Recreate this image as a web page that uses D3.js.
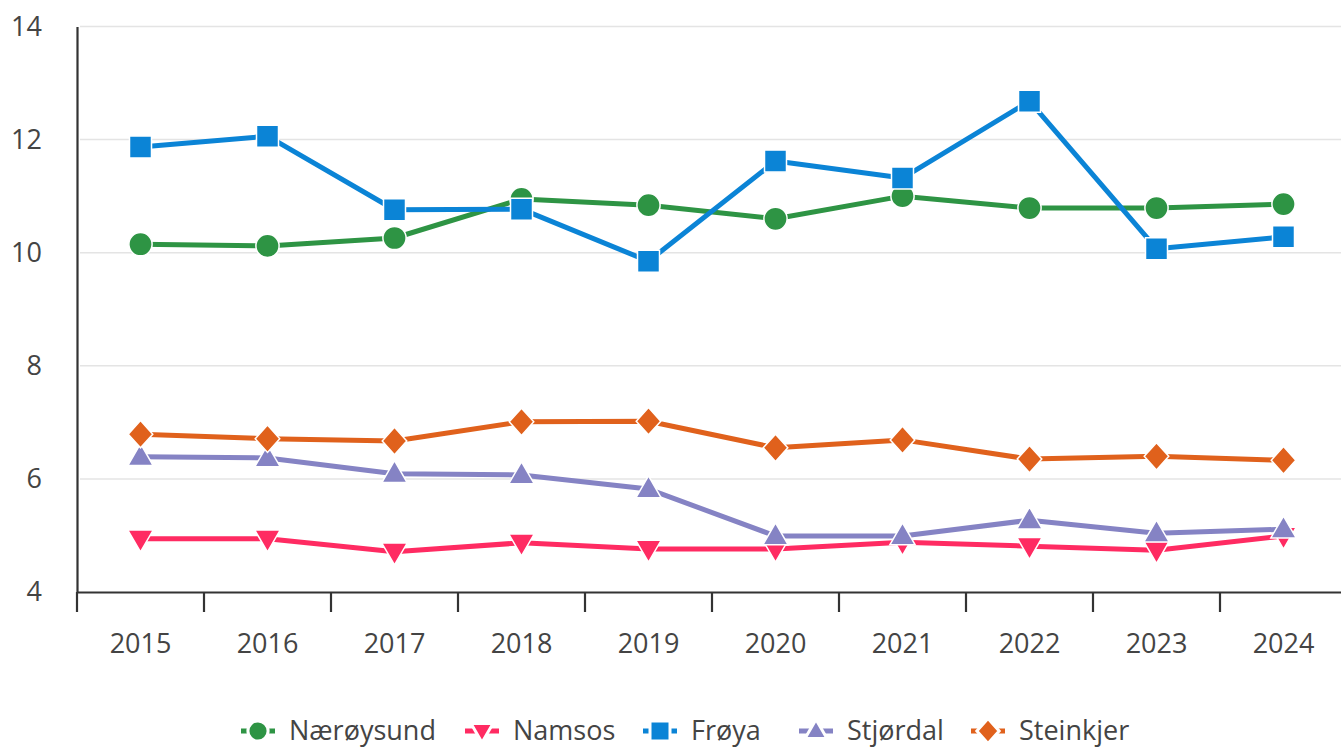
<!DOCTYPE html>
<html><head><meta charset="utf-8">
<script src="https://cdn.jsdelivr.net/npm/d3@7"></script>
<style>
html,body{margin:0;padding:0;background:#fff;}
svg{display:block;font-family:"Open Sans","Noto Sans",sans-serif;}
</style></head>
<body>
<svg id="c" width="1341" height="747"></svg>
<script>
const years = ["2015","2016","2017","2018","2019","2020","2021","2022","2023","2024"];
const yTicks = [4,6,8,10,12,14];
const seriesNames = ["Nærøysund","Namsos","Frøya","Stjørdal","Steinkjer"];
const seriesColors = ["#2e9444","#ff2b62","#0b84d6","#8583c4","#e0611c"];
const seriesSymbols = ["circle","triangleDown","square","triangle","diamond"];
const naeroysund = [10.15,10.12,10.26,10.95,10.84,10.60,11.00,10.79,10.79,10.86];
const namsos     = [4.94,4.94,4.71,4.87,4.76,4.76,4.88,4.81,4.74,4.99];
const froya      = [11.87,12.06,10.76,10.77,9.85,11.62,11.32,12.68,10.07,10.28];
const stjordal   = [6.39,6.37,6.09,6.07,5.82,4.99,4.99,5.27,5.04,5.11];
const steinkjer  = [6.79,6.71,6.67,7.01,7.02,6.55,6.69,6.35,6.40,6.33];
const seriesValues = [naeroysund,namsos,froya,stjordal,steinkjer];

(function(){
const svg = d3.select("#c");
const mLeft = 77, mRight = 1347, mTop = 26.5, mBottom = 592;
const x = d3.scaleBand().domain(years).range([mLeft,mRight]);
const y = d3.scaleLinear().domain([4,14]).range([mBottom,mTop]);
const textColor = "#444";

svg.append("g").selectAll("line").data(yTicks.filter(d=>d!==4)).join("line")
  .attr("x1",mLeft+3).attr("x2",1341).attr("y1",d=>y(d)).attr("y2",d=>y(d))
  .attr("stroke","#e4e4e4").attr("stroke-width",1.5);

const ya = svg.append("g").attr("transform",`translate(${mLeft},0)`)
  .call(d3.axisLeft(y).tickValues(yTicks).tickSize(0).tickPadding(35));
ya.select(".domain").attr("stroke","#333").attr("stroke-width",2.2);
ya.selectAll("text").attr("font-size",27).attr("fill",textColor).attr("font-family","Open Sans");

const xa = svg.append("g").attr("transform",`translate(0,${mBottom})`)
  .call(d3.axisBottom(x).tickSize(0).tickPadding(42));
xa.select(".domain").attr("stroke","#333").attr("stroke-width",2.2);
xa.selectAll("text").attr("font-size",27).attr("fill",textColor).attr("font-family","Open Sans");
const boundaries = years.map(d=>x(d)).concat([x(years[years.length-1])+x.bandwidth()]);
xa.append("g").selectAll("line").data(boundaries).join("line")
  .attr("x1",d=>d).attr("x2",d=>d).attr("y1",0).attr("y2",20)
  .attr("stroke","#333").attr("stroke-width",2.2);

const cx = d => x(d) + x.bandwidth()/2;

function symbolPath(type, s){
  switch(type){
    case "circle": return d3.symbol(d3.symbolCircle, s*s*0.80)();
    case "square": return `M${-s/2},${-s/2}H${s/2}V${s/2}H${-s/2}Z`;
    case "triangle": { const h=s*0.95, w=s*1.1; return `M0,${-h*0.6}L${w/2},${h*0.4}L${-w/2},${h*0.4}Z`; }
    case "triangleDown": { const h=s*0.95, w=s*1.1; return `M0,${h*0.6}L${w/2},${-h*0.4}L${-w/2},${-h*0.4}Z`; }
    case "diamond": { const r=s*0.62; return `M0,${-r}L${r*0.9},0L0,${r}L${-r*0.9},0Z`; }
  }
}
const symSize = {circle:23, square:22, triangle:23, triangleDown:23, diamond:22};

const line = d3.line().x((d,i)=>cx(years[i])).y(d=>y(d));
seriesNames.forEach((name,k)=>{
  const g = svg.append("g");
  g.append("path").datum(seriesValues[k]).attr("d",line)
    .attr("fill","none").attr("stroke",seriesColors[k]).attr("stroke-width",5)
    .attr("stroke-linejoin","round");
  g.selectAll("path.m").data(seriesValues[k]).join("path").attr("class","m")
    .attr("transform",(d,i)=>`translate(${cx(years[i])},${y(d)})`)
    .attr("d",symbolPath(seriesSymbols[k], symSize[seriesSymbols[k]]))
    .attr("fill",seriesColors[k]).attr("stroke","#fff").attr("stroke-width",1.5);
});

const legendX = [258,482,660,816,988];
const lg = svg.append("g").attr("transform","translate(0,731)");
seriesNames.forEach((name,k)=>{
  const g = lg.append("g").attr("transform",`translate(${legendX[k]},0)`);
  g.append("line").attr("x1",-17).attr("x2",17).attr("stroke",seriesColors[k]).attr("stroke-width",5);
  g.append("path").attr("d",symbolPath(seriesSymbols[k], 20))
    .attr("fill",seriesColors[k]).attr("stroke","#fff").attr("stroke-width",3);
  g.append("text").attr("x",31).attr("dy","0.35em").attr("font-size",27)
    .attr("fill",textColor).text(name);
});
})();
</script>
</body></html>
